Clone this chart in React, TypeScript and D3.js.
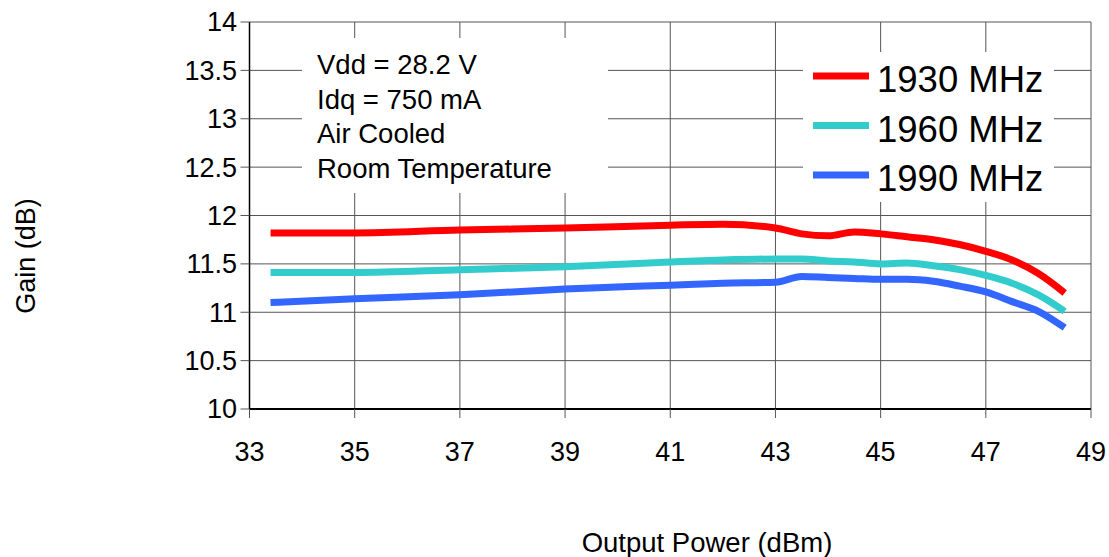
import React from 'react';
import * as d3 from 'd3';

// output power (dBm) sample points, shared by all three curves
const power = [33.4, 35, 37, 39, 41, 42, 43, 43.5, 44, 44.5, 45, 45.5, 46, 46.5, 47, 47.5, 48, 48.5];

const gain1930 = [11.82, 11.82, 11.85, 11.87, 11.9, 11.91, 11.87, 11.81, 11.79, 11.83, 11.81, 11.78, 11.75, 11.7, 11.63, 11.54, 11.4, 11.2];
const gain1960 = [11.41, 11.41, 11.44, 11.47, 11.52, 11.54, 11.55, 11.55, 11.53, 11.52, 11.5, 11.51, 11.48, 11.44, 11.38, 11.3, 11.18, 11.01];
const gain1990 = [11.1, 11.14, 11.18, 11.24, 11.28, 11.3, 11.31, 11.37, 11.36, 11.35, 11.34, 11.34, 11.32, 11.27, 11.21, 11.11, 11.01, 10.84];

const seriesNames = ['1930 MHz', '1960 MHz', '1990 MHz'];
const seriesColors = ['#ff0000', '#33cccc', '#3366ff'];

const xTicks = [33, 35, 37, 39, 41, 43, 45, 47, 49];
const yTicks = [10, 10.5, 11, 11.5, 12, 12.5, 13, 13.5, 14];

const noteLines = ['Vdd = 28.2 V', 'Idq = 750 mA', 'Air Cooled', 'Room Temperature'];

const W = 1109;
const H = 557;
const font = 'Arial, "Liberation Sans", sans-serif';

export default function App() {
  const x = d3.scaleLinear().domain([33, 49]).range([249.5, 1091]);
  const y = d3.scaleLinear().domain([10, 14]).range([409, 22]);

  const line = d3.line<number>()
    .x((_, i) => x(power[i]))
    .y(d => y(d))
    .curve(d3.curveMonotoneX);

  const series = [gain1930, gain1960, gain1990];

  return (
    <div style={{ position: 'fixed', left: 0, top: 0, width: W, height: H, overflow: 'hidden' }}>
      <svg width={W} height={H} style={{ display: 'block', background: '#fff' }}>
        {/* grid */}
        {yTicks.map(t => (
          <line key={'gy' + t} x1={x(33)} x2={x(49)} y1={y(t)} y2={y(t)} stroke="#555" strokeWidth={1} />
        ))}
        {xTicks.map(t => (
          <line key={'gx' + t} x1={x(t)} x2={x(t)} y1={y(14)} y2={y(10)} stroke="#555" strokeWidth={1} />
        ))}

        {/* note box covers the grid */}
        <rect x={302} y={38} width={306} height={155} fill="#fff" />
        {noteLines.map((s, i) => (
          <text key={s} x={317} y={74 + i * 34.6} fontFamily={font} fontSize={27.5} fill="#000">{s}</text>
        ))}

        {/* legend */}
        <rect x={803} y={52} width={251} height={150} fill="#fff" />
        {seriesNames.map((s, i) => (
          <g key={s} transform={`translate(0,${76 + i * 49.5})`}>
            <line x1={813} x2={869} y1={0} y2={0} stroke={seriesColors[i]} strokeWidth={7} />
            <text x={877} y={16} fontFamily={font} fontSize={36.5} fill="#000">{s}</text>
          </g>
        ))}

        {/* axes */}
        <line x1={x(33)} x2={x(33)} y1={y(14)} y2={y(10)} stroke="#000" strokeWidth={1.5} />
        <line x1={x(33)} x2={x(49)} y1={y(10)} y2={y(10)} stroke="#000" strokeWidth={2} />
        {yTicks.map(t => (
          <g key={'ty' + t}>
            <line x1={x(33) - 9} x2={x(33)} y1={y(t)} y2={y(t)} stroke="#555" />
            <text x={237} y={y(t)} dy="0.35em" textAnchor="end" fontFamily={font} fontSize={27}>{t}</text>
          </g>
        ))}
        {xTicks.map(t => (
          <g key={'tx' + t}>
            <line x1={x(t)} x2={x(t)} y1={y(10)} y2={y(10) + 9} stroke="#555" />
            <text x={x(t)} y={461} textAnchor="middle" fontFamily={font} fontSize={27}>{t}</text>
          </g>
        ))}

        {/* curves */}
        {series.map((s, i) => (
          <path key={seriesNames[i]} d={line(s) || ''} fill="none" stroke={seriesColors[i]} strokeWidth={7} strokeLinejoin="round" />
        ))}

        <text x={707} y={552} textAnchor="middle" fontFamily={font} fontSize={27.5}>Output Power (dBm)</text>
        <text transform="translate(35,256) rotate(-90)" textAnchor="middle" fontFamily={font} fontSize={27}>Gain (dB)</text>
      </svg>
    </div>
  );
}
